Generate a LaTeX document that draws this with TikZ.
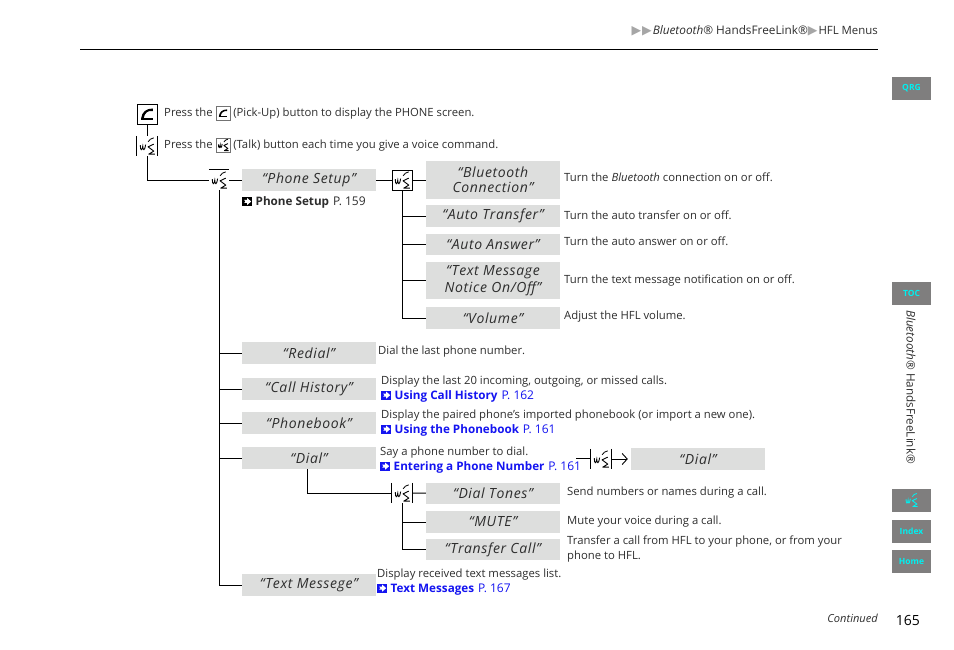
\documentclass[tikz,border=0pt]{standalone}
\usepackage{fontspec}
\usepackage{xcolor}
\usetikzlibrary{arrows.meta}
\setmainfont{Open Sans}
\newfontfamily\symfont{DejaVu Sans}
\newfontfamily\sayfont[LetterSpace=4.5]{Open Sans}
\definecolor{labelgray}{RGB}{221,222,221}
\definecolor{tabgray}{RGB}{127,126,126}
\definecolor{tabcyan}{RGB}{0,240,240}
\definecolor{linkblue}{RGB}{20,20,240}
\definecolor{textgray}{RGB}{45,45,45}
% small glyphs, kept in boxes so nodes can use them inside their text
\newcommand{\talkstrokes}[1]{
    \path (-8,0) (8,0);
    \draw[#1,line width=0.9pt,line join=round] (7,-2) -- (1.3,0.7) -- (7,5) -- (2,8) -- (8,8);
    \draw[#1,line width=0.8pt] (1.3,-4.3) .. controls (2.5,-6.5) and (4.5,-7.8) .. (7,-8.3);
    \draw[#1,line width=0.9pt] (-6.5,-1) .. controls (-6.5,5) and (-4.5,5) .. (-4,0) .. controls (-4,5) and (-2,5) .. (-1.2,-1.5);
}
\newcommand{\pickstrokes}{
    \fill (-7,6) .. controls (-6,-2) and (-1,-6) .. (7,-6) -- (7,-3) .. controls (1,-4) and (-3,-1) .. (-4,6) -- cycle;
    \fill (-7,5) -- (7,5) -- (7,7) -- (-7,7) -- cycle;
}
\newsavebox{\talkbox}
\sbox{\talkbox}{\tikz[x=1pt,y=-1pt]{\talkstrokes{black}}}
\newsavebox{\talkmini}
\sbox{\talkmini}{\tikz[x=1pt,y=-1pt,baseline=-4pt]{
    \draw[black!55,line width=0.7pt] (-7,-7) rectangle (7,7);
    \begin{scope}[scale=0.7]\talkstrokes{black}\end{scope}
}}
\newsavebox{\talktab}
\sbox{\talktab}{\tikz[x=0.8pt,y=-0.8pt]{\talkstrokes{tabcyan}}}
\newsavebox{\pickbox}
\sbox{\pickbox}{\tikz[x=0.85pt,y=-0.85pt]{\pickstrokes}}
\newsavebox{\pickmini}
\sbox{\pickmini}{\tikz[x=1pt,y=-1pt,baseline=-4pt]{
    \draw[black!55,line width=0.7pt] (-7,-7) rectangle (7,7);
    \begin{scope}[scale=0.6]\pickstrokes\end{scope}
}}
\newcommand{\refglyph}[1]{\tikz[x=1pt,y=-1pt,baseline=0pt]{
    \fill[#1] (0,-9) rectangle (10,0);
    \fill[white] (2,-6) -- (5,-6) -- (5,-8) -- (9,-4.5) -- (5,-1) -- (5,-3) -- (2,-3) -- (3.2,-4.5) -- cycle;
}}
\newsavebox{\refblack}
\sbox{\refblack}{\refglyph{black}}
\newsavebox{\refblue}
\sbox{\refblue}{\refglyph{linkblue}}
\newcommand{\tri}{{\symfont\color{black!35}\fontsize{12.5}{12}\selectfont ▶}}
\newcommand{\refbold}[1]{{\fontsize{11.7}{15.5}\selectfont\textbf{#1}}}
\newcommand{\refpage}[1]{{\fontsize{12}{15.5}\selectfont P. #1}}
\newcommand{\link}[2]{\usebox{\refblue}\hspace{3.5pt}{\color{linkblue}\refbold{#1}\hspace{1pt} \refpage{#2}}}

\begin{document}
\begin{tikzpicture}[x=1pt,y=-1pt]
    % Define styles
    \tikzstyle{saying} = [fill=labelgray, text=textgray, inner sep=0pt, minimum width=134pt, font=\sayfont\fontsize{14}{15.5}\selectfont\itshape, align=center]
    \tikzstyle{desc} = [anchor=west, inner sep=0pt, text=textgray, font=\fontsize{11.3}{15.5}\selectfont, align=left]
    \tikzstyle{descline} = [desc, text height=9pt, text depth=3pt]
    \tikzstyle{iconcell} = [inner sep=0pt, minimum width=20pt, minimum height=20pt]
    \tikzstyle{boxed} = [iconcell, draw, line width=0.9pt]
    \tikzstyle{tab} = [fill=tabgray, text=tabcyan, inner sep=0pt, minimum width=39pt, minimum height=23pt, font=\fontsize{8.5}{10}\selectfont\bfseries]
    \tikzstyle{wire} = [line width=0.9pt]
    \useasboundingbox (0,0) rectangle (954,650);

    % Header
    \node (crumb) [anchor=east, inner sep=0pt, text=textgray, font=\fontsize{11.8}{12}\selectfont] at (878,31) {\tri\hspace{1pt}\tri\hspace{1pt}\textit{Bluetooth}® HandsFreeLink®\tri\hspace{1pt}{\fontsize{11.4}{12}\selectfont HFL Menus}};
    \coordinate (ruleleft) at (80,49);
    \coordinate (ruleright) at (878,49);
    \draw [line width=0.8pt] (ruleleft) -- (ruleright);

    % Top icons
    \node (pickup) [boxed] at (147,114) {\usebox{\pickbox}};
    \node (talka) [iconcell] at (147,146) {\usebox{\talkbox}};
    \node (pressa) [descline] at (164,114) {Press the \usebox{\pickmini} (Pick-Up) button to display the PHONE screen.};
    \node (pressb) [descline] at (164,146) {Press the \usebox{\talkmini} (Talk) button each time you give a voice command.};

    % Main column
    \node (talkb) [iconcell] at (219,180) {\usebox{\talkbox}};
    \node (setup) [saying, minimum height=22pt] at (309,180) {“Phone Setup”};
    \node (setupref) [descline] at (242,203) {\usebox{\refblack}\hspace{3.5pt}\refbold{Phone Setup}\hspace{1pt} \refpage{159}};
    \node (redial) [saying, minimum height=22pt] at (309,353) {“Redial”};
    \node (history) [saying, minimum height=22pt] at (309,389) {“Call History”};
    \node (phonebook) [saying, minimum height=22pt] at (309,423) {“Phonebook”};
    \node (dial) [saying, minimum height=22pt] at (309,458) {“Dial”};
    \node (messege) [saying, minimum height=22pt] at (309,585) {“Text Messege”};

    % Phone setup column
    \node (talkc) [boxed] at (402,180) {\usebox{\talkbox}};
    \node (bluetooth) [saying, minimum height=38pt] at (493,180) {“Bluetooth\\Connection”};
    \node (transfer) [saying, minimum height=22pt] at (493,216) {“Auto Transfer”};
    \node (answer) [saying, minimum height=21pt] at (493,244.5) {“Auto Answer”};
    \node (notice) [saying, minimum height=37pt] at (493,280.5) {“Text Message\\[1.5pt]Notice On/Off”};
    \node (volume) [saying, minimum height=22pt] at (493,318) {“Volume”};

    % Dial branch
    \node (talkd) [iconcell] at (402,493) {\usebox{\talkbox}};
    \node (tones) [saying, minimum height=21pt] at (493,493.5) {“Dial Tones”};
    \node (mute) [saying, minimum height=22pt] at (493,522) {“MUTE”};
    \node (call) [saying, minimum height=21pt] at (493,549.5) {“Transfer Call”};
    \coordinate (dialstart) at (576,458);
    \node (talke) [iconcell] at (601,459) {\usebox{\talkbox}};
    \node (dialagain) [saying, minimum height=22pt] at (698,459) {“Dial”};

    % Descriptions
    \node (d1) [descline] at (564,179) {Turn the \textit{Bluetooth} connection on or off.};
    \node (d2) [descline] at (564,216) {Turn the auto transfer on or off.};
    \node (d3) [descline] at (564,243) {Turn the auto answer on or off.};
    \node (d4) [descline] at (564,280) {Turn the text message notification on or off.};
    \node (d5) [descline] at (564,316) {Adjust the HFL volume.};
    \node (d6) [descline] at (378,351) {Dial the last phone number.};
    \node (d7) [desc] at (381,389) {Display the last 20 incoming, outgoing, or missed calls.\\\link{Using Call History}{162}};
    \node (d8) [desc] at (381,423) {Display the paired phone’s imported phonebook (or import a new one).\\\link{Using the Phonebook}{161}};
    \node (d9) [desc] at (380,460) {Say a phone number to dial.\\\link{Entering a Phone Number}{161}};
    \node (d10) [descline] at (567,492) {Send numbers or names during a call.};
    \node (d11) [descline] at (567,521) {Mute your voice during a call.};
    \node (d12) [desc] at (567,549) {Transfer a call from HFL to your phone, or from your\\phone to HFL.};
    \node (d13) [desc] at (377,582) {Display received text messages list.\\\link{Text Messages}{167}};

    % Wires
    \draw [wire] (pickup) -- (talka);
    \draw [wire] (talka) |- (talkb);
    \draw [wire] (talkb) -- (setup);
    \draw [wire] (talkb.south) |- (redial);
    \draw [wire] (talkb.south) |- (history);
    \draw [wire] (talkb.south) |- (phonebook);
    \draw [wire] (talkb.south) |- (dial);
    \draw [wire] (talkb.south) |- (messege);
    \draw [wire] (setup) -- (talkc);
    \draw [wire] (talkc) -- (bluetooth);
    \draw [wire] (talkc.south) |- (transfer);
    \draw [wire] (talkc.south) |- (answer);
    \draw [wire] (talkc.south) |- (notice);
    \draw [wire] (talkc.south) |- (volume);
    \draw [wire] ([xshift=-2pt]dial.south) |- (talkd);
    \draw [wire] (talkd) -- (tones);
    \draw [wire] (talkd.south) |- (mute);
    \draw [wire] (talkd.south) |- (call);
    \draw [wire] (dialstart) -- (dialstart -| talke.west);
    \draw [wire, -{Straight Barb[length=5pt,width=11pt]}, shorten >=3pt] (talke) -- (dialagain);

    % Bars beside the talk icons
    \draw [wire] (talka.north west) -- (talka.south west);
    \draw [wire] (talka.north east) -- (talka.south east);
    \draw [wire] (talkb.north west) -- (talkb.north east);
    \draw [wire] (talkd.north west) -- (talkd.south west);
    \draw [wire] (talkd.north east) -- (talkd.south east);
    \draw [wire] (talke.north west) -- (talke.south west);
    \draw [wire] (talke.north east) -- (talke.south east);

    % Side tabs
    \node (qrg) [tab] at (911.5,88.5) {QRG};
    \node (toc) [tab] at (911.5,293.5) {TOC};
    \node (side) [rotate=-90, anchor=west, inner sep=0pt, text=textgray, font=\fontsize{11.7}{12}\selectfont] at (911,310) {\textit{Bluetooth}® HandsFreeLink®};
    \node (voice) [tab] at (911.5,500) {\usebox{\talktab}};
    \node (index) [tab] at (911.5,531.5) {Index};
    \node (home) [tab] at (911.5,561.5) {Home};

    % Footer
    \node (continued) [anchor=east, inner sep=0pt, text=textgray, font=\fontsize{11.1}{12}\selectfont\itshape] at (878,618) {Continued};
    \node (page) [anchor=east, inner sep=0pt, font=\fontsize{14}{16}\selectfont] at (920,620) {165};
\end{tikzpicture}
\end{document}
